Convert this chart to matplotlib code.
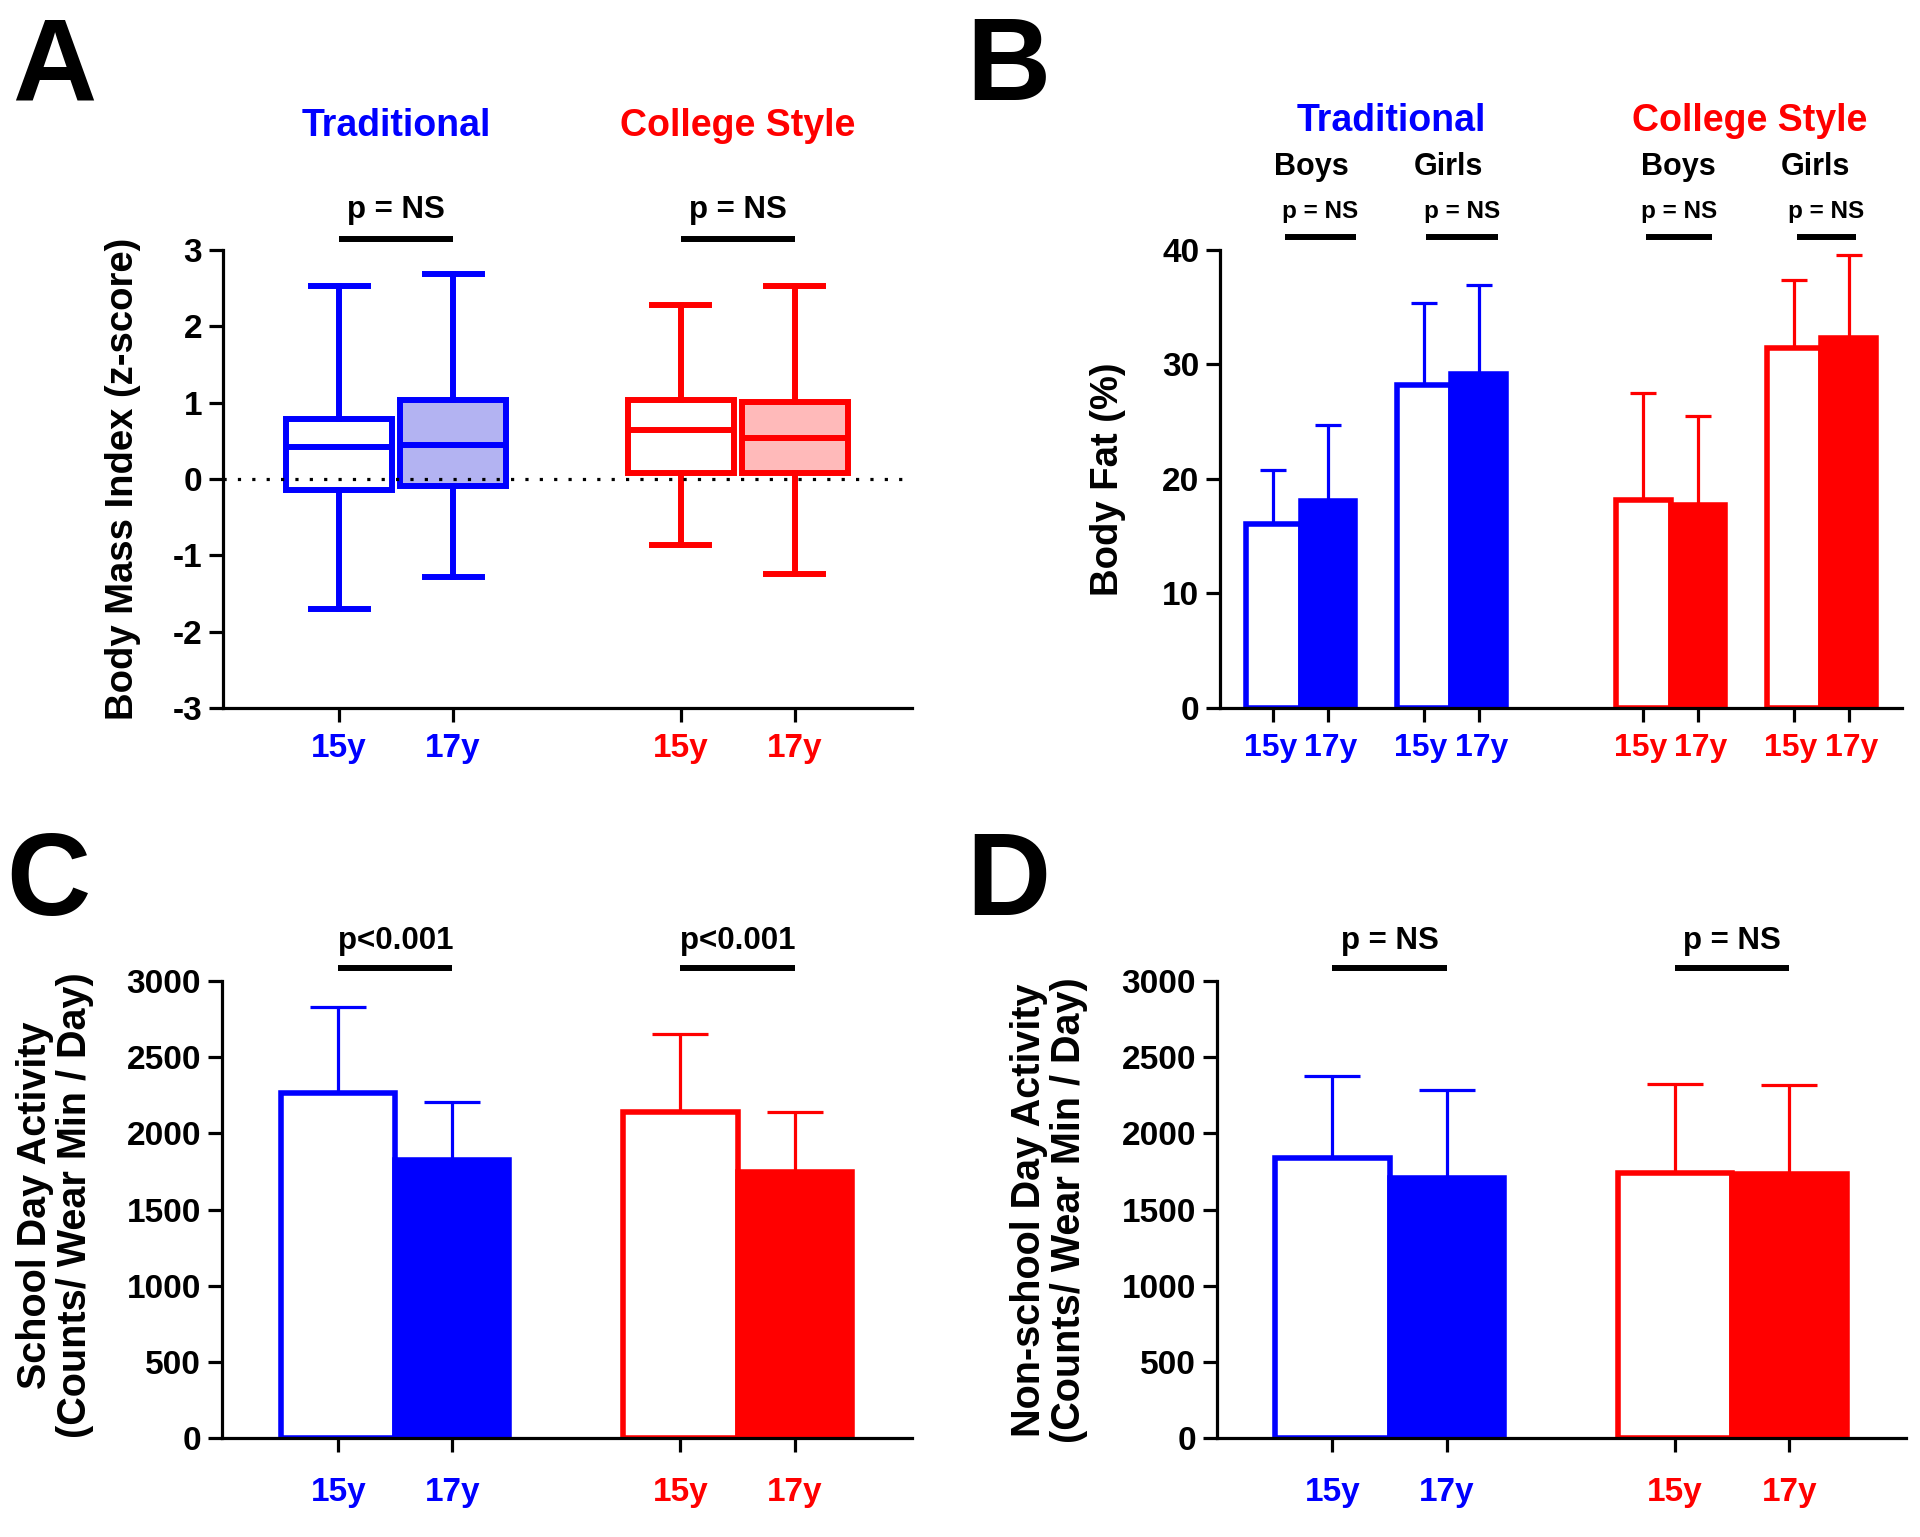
import numpy as np
import matplotlib
matplotlib.use("Agg")
import matplotlib.pyplot as plt
from matplotlib.transforms import ScaledTranslation

plt.rcParams["font.family"] = ["Liberation Sans", "DejaVu Sans"]
plt.rcParams["font.weight"] = "bold"
plt.rcParams["axes.unicode_minus"] = False

# --- data ---
age_labels = ["15y", "17y", "15y", "17y"]
group_names = ["Traditional", "College Style"]

# A: BMI z-score box plots (whisker min/max, quartiles, median)
bmi_whislo = [-1.70, -1.28, -0.87, -1.25]
bmi_q1 = [-0.14, -0.09, 0.08, 0.08]
bmi_med = [0.42, 0.45, 0.64, 0.54]
bmi_q3 = [0.79, 1.03, 1.04, 1.01]
bmi_whishi = [2.53, 2.68, 2.28, 2.53]

# B: body fat (%) mean + SD, Trad boys/girls, College boys/girls, 15y/17y
fat_labels = ["15y", "17y"] * 4
fat_mean = [16.1, 18.1, 28.2, 29.2, 18.2, 17.7, 31.4, 32.3]
fat_sd = [4.7, 6.6, 7.2, 7.7, 9.3, 7.8, 6.0, 7.3]
sex_names = ["Boys", "Girls", "Boys", "Girls"]

# C: school day activity (counts / wear min / day)
school_mean = [2266, 1825, 2140, 1744]
school_sd = [566, 380, 512, 393]

# D: non-school day activity
nonschool_mean = [1841, 1709, 1741, 1735]
nonschool_sd = [538, 576, 583, 582]

BLUE = "#0000ff"
RED = "#ff0000"
LIGHT_BLUE = "#b3b3f2"
LIGHT_RED = "#ffbaba"
edge4 = [BLUE, BLUE, RED, RED]
fill4 = ["white", BLUE, "white", RED]

W, H = 1920, 1537
fig = plt.figure(figsize=(W / 100, H / 100), dpi=100)


def add_ax(x0, x1, ytop, ybot):
    ax = fig.add_axes([x0 / W, 1 - ybot / H, (x1 - x0) / W, (ybot - ytop) / H])
    for s in ["top", "right"]:
        ax.spines[s].set_visible(False)
    for s in ["left", "bottom"]:
        ax.spines[s].set_linewidth(2.3)
    ax.tick_params(width=2.3, length=10, labelsize=24, direction="out")
    ax.tick_params(axis="y", pad=5)
    return ax


def color_xticks(ax, pos, labels, colors, pad, size=24):
    ax.set_xticks(pos)
    ax.set_xticklabels(labels)
    ax.tick_params(axis="x", pad=pad, labelsize=size)
    for lbl, c in zip(ax.get_xticklabels(), colors):
        lbl.set_color(c)


def sig(ax, x0, x1, y, ytext, text, size):
    ax.plot([x0, x1], [y, y], color="black", lw=4.3, solid_capstyle="butt", clip_on=False)
    ax.text((x0 + x1) / 2, ytext, text, ha="center", va="baseline",
            fontsize=size, fontweight="bold")


def bars(ax, pos, mean, sd, edges, fills, width, capsize):
    ax.bar(pos, mean, width=width, color=fills, edgecolor=edges, linewidth=4, zorder=2)
    for x, m, s, c in zip(pos, mean, sd, edges):
        _, caps, _ = ax.errorbar(x, m, yerr=[[0], [s]], fmt="none", ecolor=c,
                                 elinewidth=2.3, capsize=capsize, capthick=2.3, zorder=3)
        caps[0].set_visible(False)


def letter(x, ybase, s):
    fig.text(x / W, 1 - ybase / H, s, fontsize=84, fontweight="bold",
             ha="left", va="baseline")


def ylab(x, y, s, size=27.5):
    fig.text(x / W, 1 - y / H, s, fontsize=size, fontweight="bold", rotation=90,
             ha="center", va="center", linespacing=1.05, multialignment="center")


pos4 = [0, 1, 3, 4]

# ---------------- A ----------------
axA = add_ax(223, 912, 250, 708)
stats = [dict(whislo=a, q1=b, med=c, q3=d, whishi=e, fliers=[])
         for a, b, c, d, e in zip(bmi_whislo, bmi_q1, bmi_med, bmi_q3, bmi_whishi)]
bp = axA.bxp(stats, positions=pos4, widths=0.93, capwidths=0.5, patch_artist=True,
             showfliers=False, manage_ticks=False)
box_fill = ["white", LIGHT_BLUE, "white", LIGHT_RED]
for i in range(4):
    bp["boxes"][i].set(facecolor=box_fill[i], edgecolor=edge4[i], linewidth=4.3)
    bp["medians"][i].set(color=edge4[i], linewidth=4.3)
    for ln in bp["whiskers"][2 * i:2 * i + 2] + bp["caps"][2 * i:2 * i + 2]:
        ln.set(color=edge4[i], linewidth=4.3)
axA.axhline(0, color="black", lw=2.3, linestyle=(0, (1, 3.5)), zorder=5)
axA.set_xlim(-1.02, 5.03)
axA.set_ylim(-3, 3)
axA.set_yticks(np.arange(-3, 4, 1))
color_xticks(axA, pos4, age_labels, edge4, pad=8)
for gx, name, c in zip([0.5, 3.5], group_names, [BLUE, RED]):
    axA.text(gx, 4.49, name, color=c, ha="center", va="baseline", fontsize=27,
             fontweight="bold")
    sig(axA, gx - 0.5, gx + 0.5, 3.144, 3.42, "p = NS", 22.5)
ylab(123, 479, "Body Mass Index (z-score)")
letter(12, 100, "A")

# ---------------- B ----------------
posB = [0, 1, 2.75, 3.75, 6.75, 7.75, 9.5, 10.5]
axB = add_ax(1220, 1902, 250, 708)
bars(axB, posB, fat_mean, fat_sd, [BLUE] * 4 + [RED] * 4,
     ["white", BLUE] * 2 + ["white", RED] * 2, 1.0, 9.5)
axB.set_xlim(-0.97, 11.47)
axB.set_ylim(0, 40)
axB.set_yticks(np.arange(0, 41, 10))
color_xticks(axB, posB, fat_labels, [BLUE] * 4 + [RED] * 4, pad=8, size=23)
# GraphPad spreads each 15y/17y label pair slightly apart
for k, lbl in enumerate(axB.get_xticklabels()):
    dx = -3 if k % 2 == 0 else 3
    lbl.set_transform(lbl.get_transform() + ScaledTranslation(dx / 100, 0, fig.dpi_scale_trans))
axB.text(2.15, 50.4, group_names[0], color=BLUE, ha="center", va="baseline",
         fontsize=27, fontweight="bold")
axB.text(8.7, 50.4, group_names[1], color=RED, ha="center", va="baseline",
         fontsize=27, fontweight="bold")
for sx, name in zip([0.69, 3.19, 7.4, 9.9], sex_names):
    axB.text(sx, 46.55, name, ha="center", va="baseline", fontsize=22, fontweight="bold")
for x0, x1 in [(0.21, 1.51), (2.79, 4.1), (6.8, 8.0), (9.55, 10.63)]:
    sig(axB, x0, x1, 41.14, 42.8, "p = NS", 17.5)
ylab(1108, 479, "Body Fat (%)")
letter(966, 100, "B")

# ---------------- C ----------------
axC = add_ax(222, 912, 981, 1438)
bars(axC, pos4, school_mean, school_sd, edge4, fill4, 1.0, 20)
axC.set_xlim(-1.02, 5.03)
axC.set_ylim(0, 3000)
axC.set_yticks(np.arange(0, 3001, 500))
color_xticks(axC, pos4, age_labels, edge4, pad=18)
for gx in [0.5, 3.5]:
    sig(axC, gx - 0.5, gx + 0.5, 3085, 3210, "p<0.001", 22.5)
ylab(55, 1205, "School Day Activity\n(Counts/ Wear Min / Day)", 28.5)
letter(6, 915, "C")

# ---------------- D ----------------
axD = add_ax(1217, 1906, 981, 1438)
bars(axD, pos4, nonschool_mean, nonschool_sd, edge4, fill4, 1.0, 20)
axD.set_xlim(-1.01, 5.02)
axD.set_ylim(0, 3000)
axD.set_yticks(np.arange(0, 3001, 500))
color_xticks(axD, pos4, age_labels, edge4, pad=18)
for gx in [0.5, 3.5]:
    sig(axD, gx - 0.5, gx + 0.5, 3085, 3210, "p = NS", 22.5)
ylab(1049, 1210, "Non-school Day Activity\n(Counts/ Wear Min / Day)", 28.5)
letter(966, 915, "D")

fig.savefig("out.png", dpi=100)
